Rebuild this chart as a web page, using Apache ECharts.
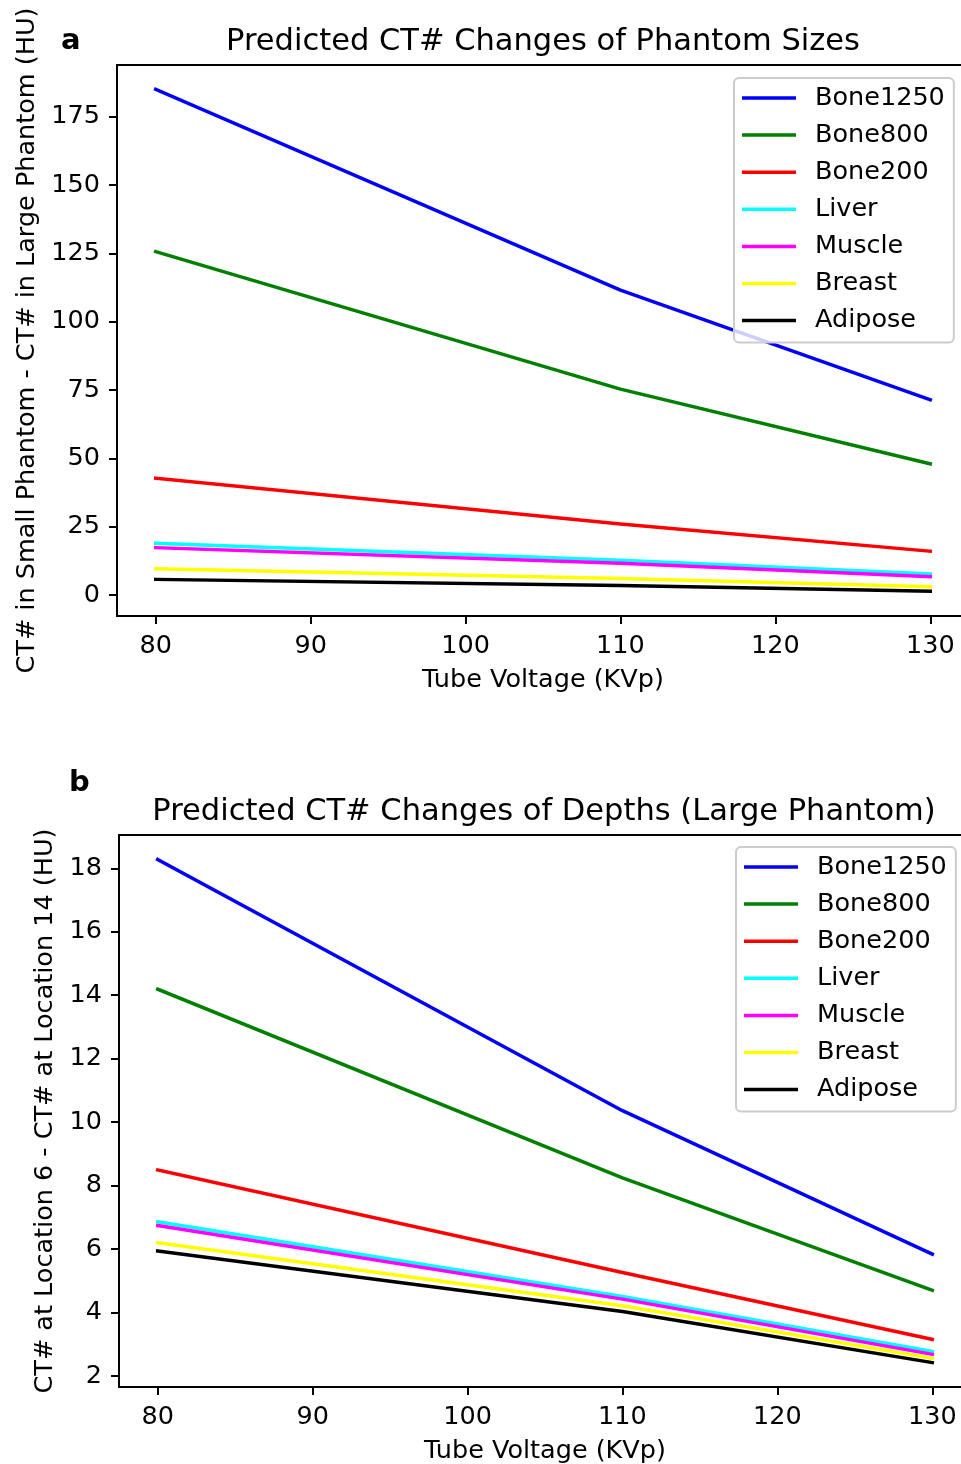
<!DOCTYPE html>
<html>
<head>
<meta charset="utf-8">
<script src="https://cdn.jsdelivr.net/npm/echarts@6/dist/echarts.min.js"></script>
<style>
  html, body { margin: 0; padding: 0; background: #fff; }
  #chart { width: 961px; height: 1464px; }
</style>
</head>
<body>
<div id="chart"></div>
<script>
// 数据 =================================
var kvp = [80, 110, 130];
var materials = ['Bone1250', 'Bone800', 'Bone200', 'Liver', 'Muscle', 'Breast', 'Adipose'];
var colors = ['#0000ff', '#008000', '#ff0000', '#00ffff', '#ff00ff', '#ffff00', '#000000'];
var xTicks = [80, 90, 100, 110, 120, 130];
var yTicksA = [0, 25, 50, 75, 100, 125, 150, 175];
var yTicksB = [2, 4, 6, 8, 10, 12, 14, 16, 18];

// a: 小体模 - 大体模
var sizeBone1250 = [185.0, 111.5, 71.4];
var sizeBone800 = [125.6, 75.3, 48.0];
var sizeBone200 = [42.7, 26.0, 16.0];
var sizeLiver = [18.9, 12.7, 7.7];
var sizeMuscle = [17.3, 11.6, 6.7];
var sizeBreast = [9.6, 6.0, 3.0];
var sizeAdipose = [5.7, 3.5, 1.4];

// b: 位置6 - 位置14
var depthBone1250 = [18.28, 10.36, 5.84];
var depthBone800 = [14.19, 8.24, 4.70];
var depthBone200 = [8.49, 5.26, 3.15];
var depthLiver = [6.86, 4.50, 2.77];
var depthMuscle = [6.74, 4.42, 2.68];
var depthBreast = [6.20, 4.21, 2.56];
var depthAdipose = [5.94, 4.03, 2.42];

var sizeData = [sizeBone1250, sizeBone800, sizeBone200, sizeLiver, sizeMuscle, sizeBreast, sizeAdipose];
var depthData = [depthBone1250, depthBone800, depthBone200, depthLiver, depthMuscle, depthBreast, depthAdipose];

var font = 'DejaVu Sans';

function pairs(vals) {
    var out = [];
    for (var i = 0; i < kvp.length; i++) {
        out.push([kvp[i], vals[i]]);
    }
    return out;
}

function makeX(gridIndex) {
    return {
        type: 'value', gridIndex: gridIndex, min: 77.5, max: 132.5,
        name: 'Tube Voltage (KVp)', nameLocation: 'middle', nameGap: 51,
        nameTextStyle: { fontSize: 25.5, fontFamily: font, color: '#000' },
        axisLine: { show: true, onZero: false, lineStyle: { color: '#000', width: 2 } },
        axisTick: { show: true, length: 8, lineStyle: { color: '#000', width: 2 }, customValues: xTicks },
        axisLabel: { fontSize: 25.5, fontFamily: font, color: '#000', margin: 17, customValues: xTicks },
        splitLine: { show: false }
    };
}

function makeY(gridIndex, min, max, ticks, name, gap) {
    return {
        type: 'value', gridIndex: gridIndex, min: min, max: max,
        name: name, nameLocation: 'middle', nameGap: gap, nameRotate: 90,
        nameTextStyle: { fontSize: 25.5, fontFamily: font, color: '#000' },
        axisLine: { show: true, onZero: false, lineStyle: { color: '#000', width: 2 } },
        axisTick: { show: true, length: 8, lineStyle: { color: '#000', width: 2 }, customValues: ticks },
        axisLabel: { fontSize: 25.5, fontFamily: font, color: '#000', margin: 17, customValues: ticks },
        splitLine: { show: false }
    };
}

function makeLegend(left, top) {
    return {
        orient: 'vertical', left: left, top: top, data: materials,
        icon: 'rect', itemWidth: 54, itemHeight: 3.5, itemGap: 11.1,
        textStyle: { fontSize: 25.5, fontFamily: font, color: '#000', lineHeight: 25, padding: [0, 0, 0, 14] },
        borderColor: '#cccccc', borderWidth: 2, borderRadius: 5,
        backgroundColor: 'rgba(255,255,255,0.8)',
        padding: [7, 9, 9, 8]
    };
}

var series = [];
for (var i = 0; i < materials.length; i++) {
    series.push({
        name: materials[i], type: 'line', xAxisIndex: 0, yAxisIndex: 0,
        data: pairs(sizeData[i]), symbol: 'none', silent: true,
        itemStyle: { color: colors[i] },
        lineStyle: { color: colors[i], width: 3.5, cap: 'square', join: 'round' }
    });
}
for (var i = 0; i < materials.length; i++) {
    series.push({
        name: materials[i], type: 'line', xAxisIndex: 1, yAxisIndex: 1,
        data: pairs(depthData[i]), symbol: 'none', silent: true,
        itemStyle: { color: colors[i] },
        lineStyle: { color: colors[i], width: 3.5, cap: 'square', join: 'round' }
    });
}

var myChart = echarts.init(document.getElementById('chart'));
var option = {
    backgroundColor: '#fff',
    animation: false,
    title: [
        { text: 'Predicted CT# Changes of Phantom Sizes', left: 538, top: 22, textAlign: 'center',
          textStyle: { fontSize: 30.5, fontWeight: 'normal', fontFamily: font, color: '#000' } },
        { text: 'Predicted CT# Changes of Depths (Large Phantom)', left: 539, top: 792, textAlign: 'center',
          textStyle: { fontSize: 30.5, fontWeight: 'normal', fontFamily: font, color: '#000' } },
        { text: 'a', left: 56, top: 22, textStyle: { fontSize: 29, fontWeight: 'bold', fontFamily: font, color: '#000' } },
        { text: 'b', left: 64, top: 764, textStyle: { fontSize: 29, fontWeight: 'bold', fontFamily: font, color: '#000' } }
    ],
    legend: [makeLegend(734, 78), makeLegend(736, 847)],
    grid: [
        { left: 117, top: 65, width: 852, height: 551, show: true, borderColor: '#000', borderWidth: 2,
          containLabel: false, outerBoundsMode: 'none' },
        { left: 119, top: 835, width: 852, height: 552, show: true, borderColor: '#000', borderWidth: 2,
          containLabel: false, outerBoundsMode: 'none' }
    ],
    xAxis: [makeX(0), makeX(1)],
    yAxis: [
        makeY(0, -7.7, 193.9, yTicksA, 'CT# in Small Phantom - CT# in Large Phantom (HU)', 77),
        makeY(1, 1.65, 19.05, yTicksB, 'CT# at Location 6 - CT# at Location 14 (HU)', 59)
    ],
    series: series
};
myChart.setOption(option);
</script>
</body>
</html>
